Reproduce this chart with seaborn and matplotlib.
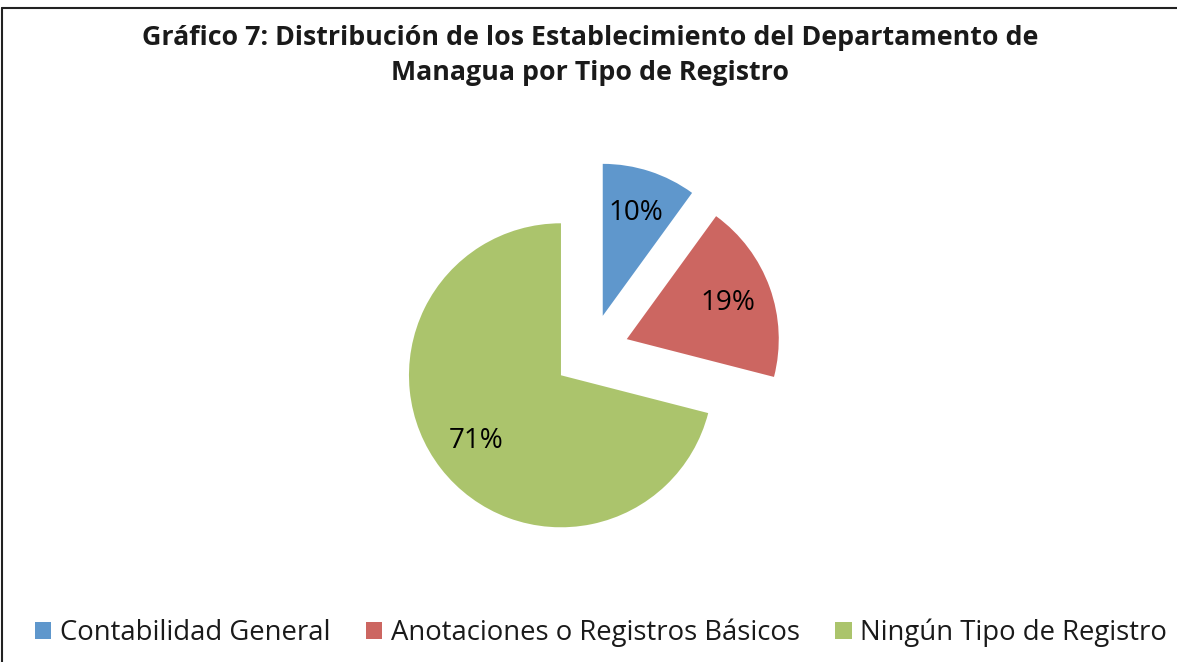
import matplotlib
matplotlib.use("Agg")
import matplotlib.pyplot as plt
from matplotlib.lines import Line2D
from matplotlib.patches import Patch
import seaborn as sns

# ---- data ----
categories = ["Contabilidad General", "Anotaciones o Registros Básicos", "Ningún Tipo de Registro"]
values = [10, 19, 71]
colors = ["#5F97CC", "#CC6661", "#ABC46C"]
title_lines = ["Gráfico 7: Distribución de los Establecimiento del Departamento de",
               "Managua por Tipo de Registro"]

sns.set_theme(style="white")
FONT = "Open Sans"
plt.rcParams["font.family"] = [FONT, "DejaVu Sans"]

W, H = 1177, 662
fig = plt.figure(figsize=(W / 100, H / 100), dpi=100)
fig.patch.set_facecolor("white")

# pie center (px) and radius
cx, cy, R = 591, 352, 152
L = 1.7
ax = fig.add_axes([(cx - L * R) / W, 1 - (cy + L * R) / H, 2 * L * R / W, 2 * L * R / H])

wedges, texts, autotexts = ax.pie(
    values, colors=colors, startangle=90, counterclock=False,
    explode=[0.25, 0.25, 0.25], autopct="%1.0f%%", pctdistance=0.71,
    wedgeprops=dict(linewidth=0),
    textprops=dict(color="black", fontsize=17, family=[FONT, "DejaVu Sans"]))
ax.set_xlim(-L, L)
ax.set_ylim(-L, L)
ax.axis("off")

t1 = fig.text(590 / W, 1 - 38 / H, title_lines[0], ha="center", va="center",
              fontsize=16, fontweight="bold", color="#1a1a1a")
t2 = fig.text(590 / W, 1 - 73 / H, title_lines[1], ha="center", va="center",
              fontsize=16, fontweight="bold", color="#1a1a1a")

# fit font sizes to measured widths
fig.canvas.draw()
r = fig.canvas.get_renderer()
def fit(text, target):
    w = text.get_window_extent(r).width
    text.set_fontsize(text.get_fontsize() * target / w)
fit(t1, 894)
t2.set_fontsize(t1.get_fontsize())
for at in autotexts:
    fit(at, 55)
total = 0
for c in categories:
    probe = fig.text(0, 0, c, fontsize=16)
    total += probe.get_window_extent(r).width
    probe.remove()
legfs = 16 * 990 / total

handles = [Patch(facecolor=c, edgecolor="none") for c in colors]
leg = fig.legend(handles, categories, loc="center", ncol=3,
                 bbox_to_anchor=(601 / W, 1 - 633 / H), frameon=False,
                 fontsize=legfs, handlelength=0.6, handleheight=0.6,
                 handletextpad=0.3, columnspacing=1.3, borderpad=0.2)
for t in leg.get_texts():
    t.set_color("#1a1a1a")

# frame lines (top and left)
fig.add_artist(Line2D([2 / W, 1], [1 - 8 / H, 1 - 8 / H], transform=fig.transFigure, color="#222222", lw=1.5))
fig.add_artist(Line2D([2 / W, 2 / W], [0, 1 - 8 / H], transform=fig.transFigure, color="#222222", lw=1.5))

fig.savefig("out.png", dpi=100)
